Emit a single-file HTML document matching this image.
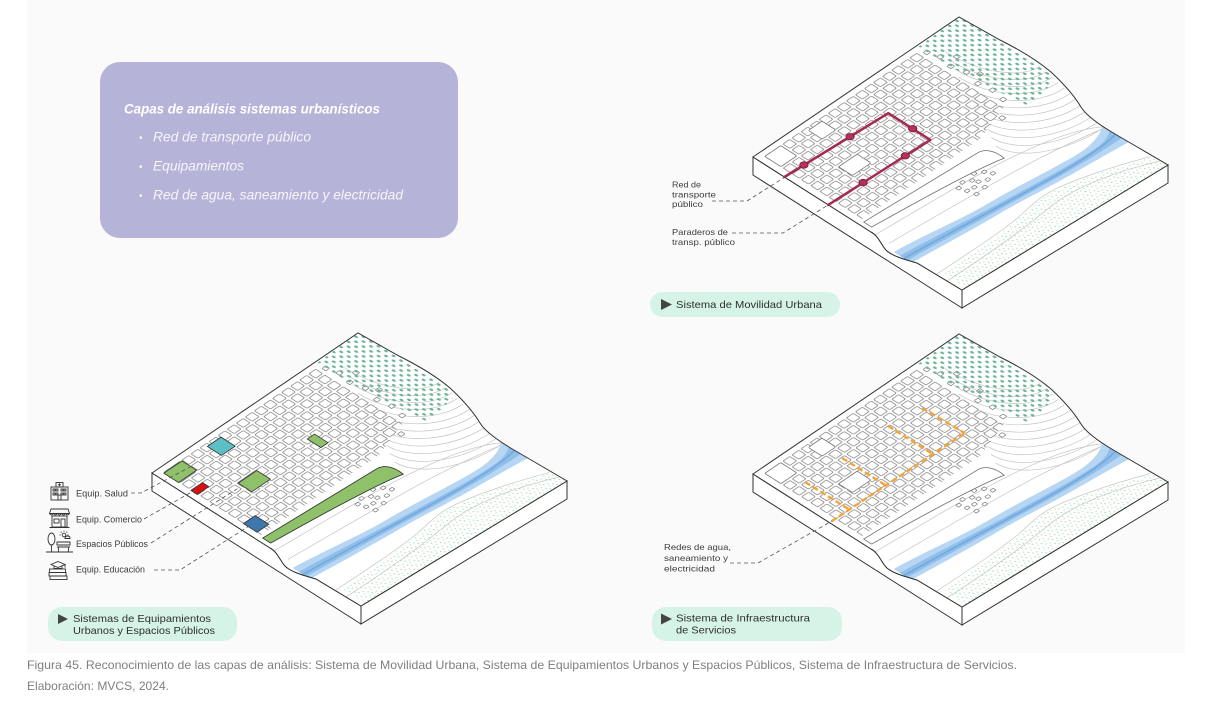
<!DOCTYPE html>
<html>
<head>
<meta charset="utf-8">
<style>
html,body{margin:0;padding:0;background:#fff;}
svg{display:block;}
.ns{vector-effect:non-scaling-stroke;}
</style>
</head>
<body>
<svg xmlns="http://www.w3.org/2000/svg" xmlns:xlink="http://www.w3.org/1999/xlink" width="1214" height="717" viewBox="0 0 1214 717" font-family="'Liberation Sans', sans-serif">
<defs>
  <pattern id="blk" patternUnits="userSpaceOnUse" x="25" y="22" width="44" height="44">
    <rect x="5" y="5" width="33" height="33" rx="5" fill="#fff" stroke="#7a7a7a" stroke-width="3"/>
  </pattern>
  <pattern id="tree" patternUnits="userSpaceOnUse" width="36" height="36">
    <ellipse cx="9" cy="9" rx="5" ry="8" fill="#6cb396"/>
    <ellipse cx="27" cy="27" rx="5" ry="8" fill="#6cb396"/>
  </pattern>
  <pattern id="grass" patternUnits="userSpaceOnUse" width="32" height="32">
    <circle cx="5" cy="6" r="3" fill="#9edcab"/>
    <circle cx="21" cy="4" r="2.6" fill="#9edcab"/>
    <circle cx="13" cy="18" r="3" fill="#9edcab"/>
    <circle cx="27" cy="24" r="2.6" fill="#9edcab"/>
  </pattern>
  <clipPath id="topclip">
    <path d="M0,0 L206,-140 L247,-117 C265,-108 285,-96 298,-85 C312,-72 322,-60 328,-50 C334,-40 350,-30 362,-23 L415,8 L209,133 L164,106 C150,102 140,99 134,94 C129,90 126,79 118,75 Z"/>
  </clipPath>

  <g id="slab">
    <path d="M0,0 L118,75 C126,79 129,90 134,94 C140,99 150,102 164,106 L209,133 L209,151 L0,18 Z" fill="#fff" stroke="#333" stroke-width="1"/>
    <path d="M209,133 L415,8 L415,26 L209,151 Z" fill="#fff" stroke="#333" stroke-width="1"/>
    <path d="M0,0 L206,-140 L247,-117 C265,-108 285,-96 298,-85 C312,-72 322,-60 328,-50 C334,-40 350,-30 362,-23 L415,8 L209,133 L164,106 C150,102 140,99 134,94 C129,90 126,79 118,75 Z" fill="#fff"/>
    <g clip-path="url(#topclip)">
      <g transform="matrix(0.206,-0.14,0.209,0.133,0,0)">
        <g fill="none" stroke="#c4c4c4" stroke-width="0.7">
          <path class="ns" d="M840,90 C840,249.5 916.5,380 1010,380"/>
          <path class="ns" d="M819.1,132.7 C819.1,287.7 902.1,414.5 1003.6,414.5"/>
          <path class="ns" d="M798.2,175.5 C798.2,325.9 887.8,449.1 997.3,449.1"/>
          <path class="ns" d="M777.3,218.2 C777.3,364.2 873.4,483.6 990.9,483.6"/>
          <path class="ns" d="M756.4,260.9 C756.4,402.4 859,518.2 984.5,518.2"/>
          <path class="ns" d="M735.5,303.6 C735.5,440.6 844.7,552.7 978.2,552.7"/>
          <path class="ns" d="M714.5,346.4 C714.5,478.9 830.3,587.3 971.8,587.3"/>
          <path class="ns" d="M693.6,389.1 C693.6,517.1 816,621.8 965.5,621.8"/>
          <path class="ns" d="M672.7,431.8 C672.7,555.3 801.5,656.4 959.1,656.4"/>
          <path class="ns" d="M651.8,474.5 C651.8,593.6 787.2,690.9 952.7,690.9"/>
          <path class="ns" d="M630.9,517.3 C630.9,631.8 772.8,725.5 946.4,725.5"/>
          <path class="ns" d="M610,560 C610,670 758.5,760 940,760"/>
          <path class="ns" d="M0,585 C200,600 450,615 600,640 C750,665 870,700 940,760"/>
          <path class="ns" d="M0,650 C250,670 500,690 650,710 C780,728 880,750 940,765"/>
          <path class="ns" d="M0,880 C150,882 300,885 400,875 C480,865 520,850 600,865 C700,885 800,920 935,980"/>
          <path class="ns" d="M0,930 C200,935 380,930 520,915 C650,905 800,950 940,1020"/>
        </g>
        <path d="M25,22 H770 V440 L600,495 H25 Z" fill="url(#blk)"/>
        <g fill="#fff" stroke="#7a7a7a" stroke-width="0.8">
          <rect class="ns" x="30" y="27" width="77" height="77" rx="6"/>
          <rect class="ns" x="165" y="247" width="90" height="66" rx="6"/>
          <rect class="ns" x="228" y="40" width="66" height="66" rx="6"/>
        </g>
        <g fill="#fff" stroke="#7a7a7a" stroke-width="0.7">
          <rect class="ns" x="785" y="40" width="18" height="18" rx="3"/>
          <rect class="ns" x="800" y="90" width="18" height="18" rx="3"/>
          <rect class="ns" x="790" y="150" width="18" height="18" rx="3"/>
          <rect class="ns" x="840" y="130" width="18" height="18" rx="3"/>
          <rect class="ns" x="805" y="210" width="18" height="18" rx="3"/>
          <rect class="ns" x="790" y="280" width="18" height="18" rx="3"/>
          <rect class="ns" x="830" y="250" width="18" height="18" rx="3"/>
          <rect class="ns" x="800" y="340" width="18" height="18" rx="3"/>
          <rect class="ns" x="790" y="400" width="18" height="18" rx="3"/>
          <rect class="ns" x="720" y="465" width="18" height="18" rx="3"/>
          <rect class="ns" x="360" y="615" width="16" height="14" rx="3"/>
          <rect class="ns" x="390" y="603" width="16" height="14" rx="3"/>
          <rect class="ns" x="420" y="620" width="16" height="14" rx="3"/>
          <rect class="ns" x="450" y="600" width="16" height="14" rx="3"/>
          <rect class="ns" x="480" y="618" width="16" height="14" rx="3"/>
          <rect class="ns" x="370" y="645" width="16" height="14" rx="3"/>
          <rect class="ns" x="400" y="650" width="16" height="14" rx="3"/>
          <rect class="ns" x="430" y="640" width="16" height="14" rx="3"/>
          <rect class="ns" x="460" y="655" width="16" height="14" rx="3"/>
          <rect class="ns" x="495" y="645" width="16" height="14" rx="3"/>
          <rect class="ns" x="380" y="680" width="16" height="14" rx="3"/>
          <rect class="ns" x="425" y="675" width="16" height="14" rx="3"/>
        </g>
        <path class="ns" d="M20,510 L540,540 C575,540 592,575 585,625 C500,600 300,575 20,548 Z" fill="#fff" stroke="#6a6a6a" stroke-width="0.8"/>
        <path d="M-20,693 C150,712 260,742 380,750 C550,762 700,792 800,792 C860,790 905,772 930,752 L945,875 C850,865 760,857 690,851 C560,838 450,820 370,815 C250,806 120,792 -20,776 Z" fill="#b7d6f3"/>
        <path d="M-20,722 C150,740 300,765 450,782 C600,800 760,818 850,815 C890,812 915,800 935,785 L940,842 C850,842 760,838 650,828 C500,812 350,795 200,780 C100,770 40,762 -20,758 Z" fill="#8fbee9"/>
        <path class="ns" d="M-20,742 C200,763 450,797 650,816 C780,827 880,826 938,812" fill="none" stroke="#72a9e0" stroke-width="1.6"/>
        <path d="M790,8 L1000,0 L1011,185 L1013,430 L985,470 L900,485 L835,490 L815,350 L800,200 Z" fill="url(#tree)"/>
        <path d="M20,890 C150,890 300,892 400,882 C480,872 520,858 600,872 C700,892 800,928 935,988 L945,1054 L20,1004 Z" fill="url(#grass)"/>
      </g>
    </g>
    <path d="M0,0 L206,-140 L247,-117 C265,-108 285,-96 298,-85 C312,-72 322,-60 328,-50 C334,-40 350,-30 362,-23 L415,8 L209,133 L164,106 C150,102 140,99 134,94 C129,90 126,79 118,75 Z" fill="none" stroke="#333" stroke-width="1"/>
  </g>
</defs>

<rect x="27" y="0" width="1158" height="653" fill="#fafafa"/>

<rect x="100" y="62" width="358" height="176" rx="20" fill="#b6b3d8"/>
<text x="124" y="113.5" font-size="14" font-weight="bold" font-style="italic" fill="#fff" textLength="256" lengthAdjust="spacingAndGlyphs">Capas de análisis sistemas urbanísticos</text>
<g fill="#f6f5fb" font-size="14" font-style="italic">
  <text x="139" y="141" font-size="10" font-style="normal">•</text>
  <text x="153" y="141.5" textLength="158" lengthAdjust="spacingAndGlyphs">Red de transporte público</text>
  <text x="139" y="170" font-size="10" font-style="normal">•</text>
  <text x="153" y="170.5" textLength="91" lengthAdjust="spacingAndGlyphs">Equipamientos</text>
  <text x="139" y="199" font-size="10" font-style="normal">•</text>
  <text x="153" y="199.5" textLength="250" lengthAdjust="spacingAndGlyphs">Red de agua, saneamiento y electricidad</text>
</g>

<use href="#slab" xlink:href="#slab" transform="translate(753,157)"/>
<g transform="translate(753,157)">
  <path d="M31.4,20 L135.3,-43.8 L177.3,-17.1 L75.2,47.9" fill="none" stroke="#a52a50" stroke-width="2.5" stroke-linejoin="round" stroke-linecap="round"/>
  <g fill="#b23259" stroke="#7a1838" stroke-width="0.8">
    <ellipse cx="50.9" cy="8" rx="4.2" ry="3.2"/>
    <ellipse cx="97.1" cy="-20.3" rx="4.2" ry="3.2"/>
    <ellipse cx="159.7" cy="-28.3" rx="4.2" ry="3.2"/>
    <ellipse cx="152.3" cy="-1.2" rx="4.2" ry="3.2"/>
    <ellipse cx="110.1" cy="25.5" rx="4.2" ry="3.2"/>
  </g>
</g>
<g fill="none" stroke="#555" stroke-width="0.8" stroke-dasharray="4 3">
  <path d="M712,201 H747 L785,177"/>
  <path d="M732,233 H783 L828,205"/>
</g>
<g font-size="8.5" fill="#3d3d3d">
  <text x="672" y="187.5" textLength="29" lengthAdjust="spacingAndGlyphs">Red de</text>
  <text x="672" y="197.5" textLength="44" lengthAdjust="spacingAndGlyphs">transporte</text>
  <text x="672" y="207" textLength="31" lengthAdjust="spacingAndGlyphs">público</text>
  <text x="672" y="235" textLength="56" lengthAdjust="spacingAndGlyphs">Paraderos de</text>
  <text x="672" y="245" textLength="63" lengthAdjust="spacingAndGlyphs">transp. público</text>
</g>
<rect x="650" y="292" width="190" height="25" rx="12.5" fill="#d5f3e7"/>
<path d="M661,299 L672,304.5 L661,310 Z" fill="#444"/>
<text x="676" y="308" font-size="10.5" fill="#2f2f2f" textLength="146" lengthAdjust="spacingAndGlyphs">Sistema de Movilidad Urbana</text>

<use href="#slab" xlink:href="#slab" transform="translate(152,473)"/>
<g transform="translate(152,473)">
  <g transform="matrix(0.206,-0.14,0.209,0.133,0,0)" stroke="#333" stroke-width="0.8">
    <rect class="ns" x="228" y="40" width="66" height="68" fill="#5cbfc6"/>
    <rect class="ns" x="27" y="30" width="88" height="70" fill="#8fc06a"/>
    <rect class="ns" x="27" y="160" width="56" height="30" fill="#e00d0d"/>
    <rect class="ns" x="165" y="250" width="90" height="65" fill="#8fc06a"/>
    <rect class="ns" x="490" y="260" width="35" height="65" fill="#8fc06a"/>
    <rect class="ns" x="28" y="410" width="57" height="65" fill="#3d78ad"/>
    <path class="ns" d="M20,510 L540,540 C575,540 592,575 585,625 C500,600 300,575 20,548 Z" fill="#8fc06a"/>
  </g>
</g>
<g fill="none" stroke="#555" stroke-width="0.8" stroke-dasharray="4 3">
  <path d="M131,493 H141 L192,466"/>
  <path d="M144,519 L197,489"/>
  <path d="M151,543 L240,487"/>
  <path d="M154,570 H180 L249,526"/>
</g>
<g font-size="9" fill="#3a3a3a">
  <text x="76" y="496.5" textLength="52" lengthAdjust="spacingAndGlyphs">Equip. Salud</text>
  <text x="76" y="522.5" textLength="66" lengthAdjust="spacingAndGlyphs">Equip. Comercio</text>
  <text x="76" y="547" textLength="72" lengthAdjust="spacingAndGlyphs">Espacios Públicos</text>
  <text x="76" y="572.5" textLength="69" lengthAdjust="spacingAndGlyphs">Equip. Educación</text>
</g>
<g fill="none" stroke="#333" stroke-width="0.9">
  <rect x="51" y="487" width="17" height="13"/>
  <rect x="56" y="482.5" width="7" height="4.5"/>
  <path d="M59.5,483.3 v3 M58,484.8 h3"/>
  <rect x="53" y="489" width="2" height="2"/><rect x="56" y="489" width="2" height="2"/><rect x="61" y="489" width="2" height="2"/><rect x="64" y="489" width="2" height="2"/>
  <rect x="53" y="493" width="2" height="2"/><rect x="56" y="493" width="2" height="2"/><rect x="61" y="493" width="2" height="2"/><rect x="64" y="493" width="2" height="2"/>
  <rect x="58" y="495" width="3" height="5"/>
  <path d="M51,509 h17 l1.5,4.5 h-20 Z"/>
  <path d="M49.5,513.5 q2,3 4,0 q2,3 4,0 q2,3 4,0 q2,3 4,0 q2,3 4,0"/>
  <rect x="52" y="516" width="15" height="11"/>
  <rect x="54" y="519" width="5" height="4"/>
  <rect x="61" y="519" width="4" height="8"/>
  <path d="M49.5,527.5 h20"/>
  <ellipse cx="51.5" cy="539" rx="3.5" ry="6"/>
  <path d="M51.5,545 v6.5"/>
  <path d="M57,542 h13 v3 h-13 Z M57,547 h13 M58.5,547 v4.5 M68.5,547 v4.5"/>
  <circle cx="64" cy="535" r="1.8"/>
  <path d="M64,531.5 v-1 M67.5,535 h1 M60.5,535 h-1 M66.5,532.5 l0.8,-0.8 M61.5,532.5 l-0.8,-0.8"/>
  <path d="M65,538.5 q0,-2.5 2.5,-2.5 q2.5,0 2.5,2.5 z"/>
  <path d="M46,552 h27"/>
  <path d="M51,564.5 l7,-3 7,3 -7,3 z"/>
  <path d="M54,566 v2.5 h8 v-2.5 M65,564.5 v3"/>
  <rect x="49.5" y="569" width="16" height="3.5"/>
  <rect x="49" y="572.5" width="17" height="3.5"/>
  <rect x="50" y="576" width="17" height="3.5"/>
</g>
<rect x="48" y="607" width="189" height="34" rx="14" fill="#d5f3e7"/>
<path d="M58,614 L68,619 L58,624 Z" fill="#444"/>
<text x="73" y="622" font-size="10.5" fill="#2f2f2f" textLength="138" lengthAdjust="spacingAndGlyphs">Sistemas de Equipamientos</text>
<text x="73" y="634" font-size="10.5" fill="#2f2f2f" textLength="142" lengthAdjust="spacingAndGlyphs">Urbanos y Espacios Públicos</text>

<use href="#slab" xlink:href="#slab" transform="translate(753,474)"/>
<g transform="translate(753,474)" fill="none" stroke="#f2a43a" stroke-width="2.4" stroke-dasharray="6 3">
  <path d="M78.6,47.3 L212,-41"/>
  <path d="M52,8 L96.5,35.6"/>
  <path d="M89.1,-16 L132.7,11.3"/>
  <path d="M135,-48.1 L179.9,-19.9"/>
  <path d="M169,-65.9 L211.9,-40.8"/>
</g>
<path d="M730,563 H758 L832,521" fill="none" stroke="#555" stroke-width="0.8" stroke-dasharray="4 3"/>
<g font-size="8.5" fill="#3d3d3d">
  <text x="664" y="550" textLength="67" lengthAdjust="spacingAndGlyphs">Redes de agua,</text>
  <text x="664" y="561" textLength="64" lengthAdjust="spacingAndGlyphs">saneamiento y</text>
  <text x="664" y="571.5" textLength="51" lengthAdjust="spacingAndGlyphs">electricidad</text>
</g>
<rect x="652" y="607" width="190" height="34" rx="14" fill="#d5f3e7"/>
<path d="M661,613.5 L672,619 L661,624.5 Z" fill="#444"/>
<text x="676" y="621.5" font-size="10.5" fill="#2f2f2f" textLength="134" lengthAdjust="spacingAndGlyphs">Sistema de Infraestructura</text>
<text x="676" y="633.5" font-size="10.5" fill="#2f2f2f" textLength="60" lengthAdjust="spacingAndGlyphs">de Servicios</text>

<text x="27" y="669" font-size="12" fill="#7f7f7f" textLength="990" lengthAdjust="spacingAndGlyphs">Figura 45.  Reconocimiento de las capas de análisis: Sistema de Movilidad Urbana, Sistema de Equipamientos Urbanos y Espacios Públicos, Sistema de Infraestructura de Servicios.</text>
<text x="27" y="690" font-size="12" fill="#7f7f7f" textLength="142" lengthAdjust="spacingAndGlyphs">Elaboración: MVCS, 2024.</text>
</svg>
</body>
</html>
